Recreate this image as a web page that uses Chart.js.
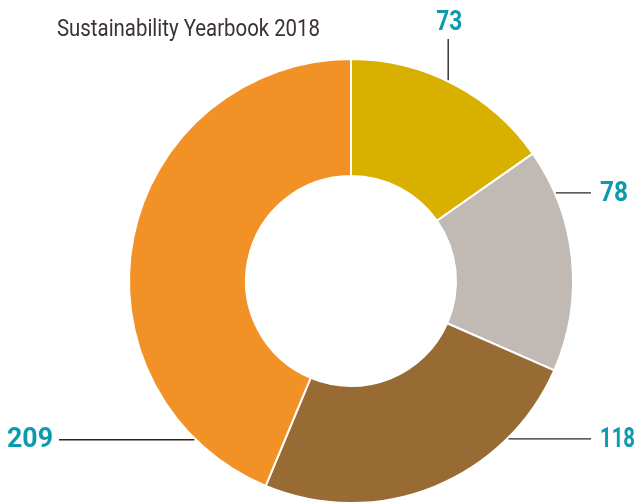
<!DOCTYPE html>
<html>
<head>
<meta charset="utf-8">
<script src="https://cdn.jsdelivr.net/npm/chart.js@4.4.1/dist/chart.umd.min.js"></script>
<style>
  html, body { margin: 0; padding: 0; background: #fff; }
  #wrap { width: 637px; height: 504px; position: relative; }
</style>
</head>
<body>
<div id="wrap"><canvas id="donut"></canvas></div>
<script>
const TITLE = 'Sustainability Yearbook 2018';
const labels = ['A', 'B', 'C', 'D'];
const values = [73, 78, 118, 209];
const colors = ['#D8B000', '#C0B9B4', '#986B34', '#F19126'];

// where each leader line leaves its slice (fraction along the arc) and where it ends
const leaders = [
  { frac: 0.47, dir: 'up', end: 39, textW: 26 },
  { frac: 0.20, dir: 'right', end: 591, textW: 28 },
  { frac: 0.24, dir: 'right', end: 591, textW: 35 },
  { frac: 0.14, dir: 'left', end: 59, textW: 46 },
];

const calloutPlugin = {
  id: 'callouts',
  afterDraw(chart) {
    const ctx = chart.ctx;
    const arcs = chart.getDatasetMeta(0).data;
    ctx.save();

    // heading
    ctx.font = '23px Roboto, sans-serif';
    ctx.fillStyle = '#3b3331';
    ctx.textAlign = 'left';
    ctx.textBaseline = 'alphabetic';
    ctx.fillText(TITLE, 57, 36, 263);

    arcs.forEach((arc, i) => {
      const l = leaders[i];
      const a = arc.startAngle + (arc.endAngle - arc.startAngle) * l.frac;
      const r = arc.outerRadius + 1;
      const px = arc.x + Math.cos(a) * r;
      const py = arc.y + Math.sin(a) * r;
      ctx.strokeStyle = '#2b2523';
      ctx.lineWidth = 1.4;
      ctx.beginPath();
      ctx.moveTo(px, py);
      if (l.dir === 'up') ctx.lineTo(px, l.end);
      else ctx.lineTo(l.end, py);
      ctx.stroke();

      ctx.font = 'bold 27px Roboto, sans-serif';
      ctx.fillStyle = '#0E9AAE';
      const txt = String(values[i]);
      if (l.dir === 'up') {
        ctx.textAlign = 'center';
        ctx.textBaseline = 'alphabetic';
        ctx.fillText(txt, px + 1, 30, l.textW);
      } else if (l.dir === 'right') {
        ctx.textAlign = 'left';
        ctx.textBaseline = 'middle';
        ctx.fillText(txt, l.end + 9, py + 1, l.textW);
      } else {
        ctx.textAlign = 'right';
        ctx.textBaseline = 'middle';
        ctx.fillText(txt, l.end - 6, py + 1, l.textW);
      }
    });
    ctx.restore();
  }
};

new Chart(document.getElementById('donut'), {
  type: 'doughnut',
  data: {
    labels: labels,
    datasets: [{
      data: values,
      backgroundColor: colors,
      borderColor: '#ffffff',
      borderWidth: 2,
      hoverOffset: 0,
    }],
  },
  options: {
    responsive: true, maintainAspectRatio: false,
    animation: false,
    radius: 222,
    cutout: 105,
    layout: { padding: { left: 65, right: 0, top: 58, bottom: 0 } },
    plugins: {
      legend: { display: false },
      tooltip: { enabled: false },
    },
  },
  plugins: [calloutPlugin],
});
</script>
</body>
</html>
